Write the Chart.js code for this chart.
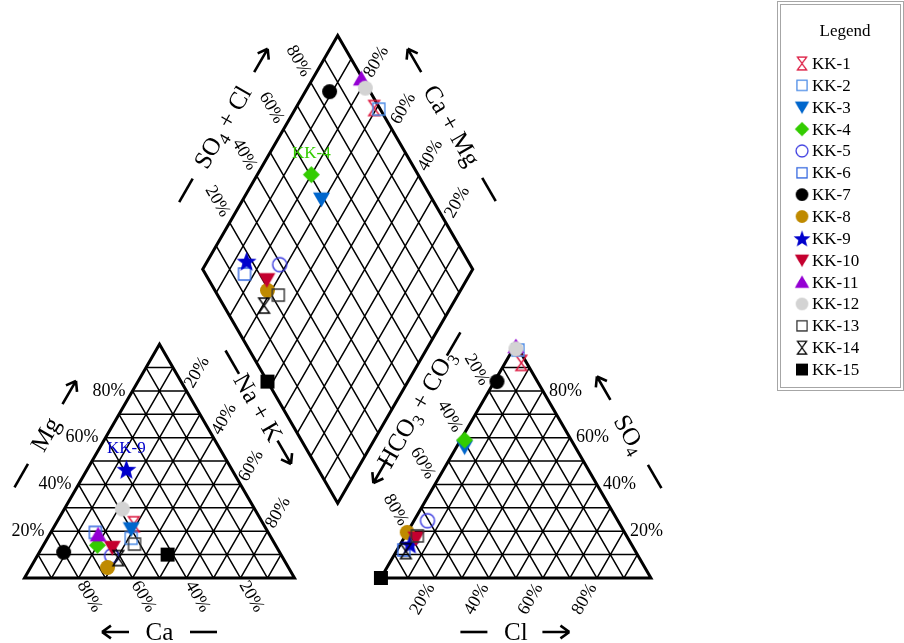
<!DOCTYPE html>
<html>
<head>
<meta charset="utf-8">
<style>
  html, body { margin: 0; padding: 0; background: #fff; }
  #wrap { width: 904px; height: 643px; }
</style>
<script src="https://cdn.jsdelivr.net/npm/chart.js@4.4.1/dist/chart.umd.min.js"></script>
</head>
<body>
<div id="wrap"><canvas id="piper" width="904" height="643"></canvas></div>
<script>
// sample names and ionic composition (% of meq)
var samples = ["KK-1", "KK-2", "KK-3", "KK-4", "KK-5", "KK-6", "KK-7", "KK-8",
               "KK-9", "KK-10", "KK-11", "KK-12", "KK-13", "KK-14", "KK-15"];
var ca   = [48, 52, 50, 66, 63, 64, 80, 67, 39, 61, 63.5, 49, 52, 61, 42];
var mg   = [23, 17, 21, 14, 9.5, 19.5, 11, 4.5, 46.5, 13, 18.5, 29.5, 14.5, 8.5, 10];
var naK  = [29, 31, 29, 20, 27.5, 16.5, 9, 28.5, 14.5, 26, 18, 21.5, 33.5, 30.5, 48];
var hco3 = [2, 0.5, 41, 39.5, 70.5, 85.5, 15, 80.5, 82, 78.5, 0.5, 1, 77.5, 85, 100];
var cl   = [6, 2, 3, 1.5, 5, 2.5, 1, 0, 3.5, 4.5, 0.5, 1, 4.5, 3.5, 0];
var so4  = [92, 97.5, 56, 59, 24.5, 12, 84, 19.5, 14.5, 17, 99, 98, 18, 11.5, 0];

var tickPct = [20, 40, 60, 80];
var gridPct = [10, 20, 30, 40, 50, 60, 70, 80, 90];

// marker look per sample
var markers = ["hourglass", "square", "triDown", "diamond", "circle", "square", "dot", "dot",
               "star", "triDown", "triUp", "dot", "square", "hourglass", "block"];
var colors = ["#dc143c", "#4a8ae6", "#0066cc", "#33cc00", "#3a3ae0", "#3568e0", "#000000", "#bf8a00",
              "#0000cc", "#c4002f", "#9400d3", "#d3d3d3", "#333333", "#000000", "#000000"];
var tagged = { "KK-4": 2, "KK-9": 0 };   // sample -> which point carries its name

var SERIF = "'Liberation Serif', 'Times New Roman', serif";
var H = Math.sqrt(3) / 2;
var GAP = 32;
var PX = 2.7;                  // pixels per percent
var XMIN = -24.5 / PX, XMAX = XMIN + 904 / PX;
var YMAX = 578 / PX, YMIN = YMAX - 643 / PX;

// ternary -> cartesian
function catXY(c, m, n) { return { x: n + m / 2, y: m * H }; }
function anXY(h, c, s) { return { x: 100 + GAP + c + s / 2, y: s * H }; }
var B = { x: 100 + GAP / 2, y: GAP * H };
function dmXY(camg, scl) { return { x: B.x + (scl - camg) / 2, y: B.y + (scl + camg) * H }; }

// grid lines, broken with nulls
var grid = [], frame = [];
function seg(arr, a, b) { arr.push(a, b, { x: null, y: null }); }
function triGrid(f) {
    gridPct.forEach(function (v) {
        seg(grid, f(v, 100 - v, 0), f(v, 0, 100 - v));
        seg(grid, f(100 - v, v, 0), f(0, v, 100 - v));
        seg(grid, f(100 - v, 0, v), f(0, 100 - v, v));
    });
}
triGrid(catXY);
triGrid(anXY);
gridPct.forEach(function (v) {
    seg(grid, dmXY(v, 0), dmXY(v, 100));
    seg(grid, dmXY(0, v), dmXY(100, v));
});
function closed(pts) { frame.push.apply(frame, pts.concat([pts[0], pts[1], { x: null, y: null }])); }
closed([catXY(100, 0, 0), catXY(0, 0, 100), catXY(0, 100, 0)]);
closed([anXY(100, 0, 0), anXY(0, 100, 0), anXY(0, 0, 100)]);
closed([dmXY(0, 0), dmXY(0, 100), dmXY(100, 100), dmXY(100, 0)]);

// marker images
function markerImage(shape, color) {
    var size = { hourglass: 15, square: 12, triDown: 17, diamond: 17, circle: 14, dot: 15,
                 star: 21, triUp: 17, block: 14 }[shape];
    var c = document.createElement("canvas");
    c.width = c.height = size + 4;
    var g = c.getContext("2d");
    g.translate(c.width / 2, c.height / 2);
    var r = size / 2, open = false;
    g.beginPath();
    if (shape === "hourglass") {
        g.moveTo(-r * 0.72, -r); g.lineTo(r * 0.72, -r); g.lineTo(-r * 0.72, r); g.lineTo(r * 0.72, r);
        g.closePath(); open = true;
    } else if (shape === "square" || shape === "block") {
        g.rect(-r, -r, size, size); open = shape === "square";
    } else if (shape === "triDown") {
        g.moveTo(-r, -r * 0.78); g.lineTo(r, -r * 0.78); g.lineTo(0, r * 0.95); g.closePath();
    } else if (shape === "triUp") {
        g.moveTo(-r, r * 0.78); g.lineTo(r, r * 0.78); g.lineTo(0, -r * 0.95); g.closePath();
    } else if (shape === "diamond") {
        g.moveTo(0, -r); g.lineTo(r, 0); g.lineTo(0, r); g.lineTo(-r, 0); g.closePath();
    } else if (shape === "circle" || shape === "dot") {
        g.arc(0, 0, r, 0, Math.PI * 2); open = shape === "circle";
    } else if (shape === "star") {
        for (var i = 0; i < 10; i++) {
            var rad = i % 2 ? r * 0.42 : r;
            var a = -Math.PI / 2 + i * Math.PI / 5;
            g.lineTo(Math.cos(a) * rad, Math.sin(a) * rad + 1);
        }
        g.closePath();
    }
    if (open) { g.strokeStyle = color; g.lineWidth = 1.4; g.stroke(); }
    else { g.fillStyle = color; g.fill(); }
    return c;
}

var datasets = [
    { label: "_grid", data: grid, showLine: true, borderColor: "#000", borderWidth: 1.5,
      pointRadius: 0, spanGaps: false, order: 1000 },
    { label: "_frame", data: frame, showLine: true, borderColor: "#000", borderWidth: 3,
      borderJoinStyle: "miter", pointRadius: 0, spanGaps: false, order: 999 }
];
samples.forEach(function (name, i) {
    datasets.push({
        label: name,
        data: [catXY(ca[i], mg[i], naK[i]), anXY(hco3[i], cl[i], so4[i]),
               dmXY(ca[i] + mg[i], so4[i] + cl[i])],
        pointStyle: markerImage(markers[i], colors[i]),
        pointRadius: 8,
        showLine: false,
        clip: false,
        order: 100 - i
    });
});

// helpers for the text and arrows
function textAt(ctx, str, p, deg, align, size, color) {
    ctx.save();
    ctx.translate(p.x, p.y);
    ctx.rotate(deg * Math.PI / 180);
    ctx.font = size + "px " + SERIF;
    ctx.textAlign = align;
    ctx.textBaseline = "middle";
    ctx.fillStyle = color || "#000";
    ctx.fillText(str, 0, 0);
    ctx.restore();
}
function richAt(ctx, parts, p, deg, size) {
    ctx.save();
    ctx.translate(p.x, p.y);
    ctx.rotate(deg * Math.PI / 180);
    ctx.fillStyle = "#000";
    ctx.textAlign = "left";
    ctx.textBaseline = "alphabetic";
    var w = 0;
    parts.forEach(function (pt) {
        ctx.font = (pt[1] ? size * 0.68 : size) + "px " + SERIF;
        w += ctx.measureText(pt[0]).width;
    });
    var cx = -w / 2, base = size * 0.33;
    parts.forEach(function (pt) {
        ctx.font = (pt[1] ? size * 0.68 : size) + "px " + SERIF;
        ctx.fillText(pt[0], cx, pt[1] ? base + size * 0.2 : base);
        cx += ctx.measureText(pt[0]).width;
    });
    ctx.restore();
}
function line(ctx, c, d, len) {
    ctx.moveTo(c.x - d.x * len / 2, c.y - d.y * len / 2);
    ctx.lineTo(c.x + d.x * len / 2, c.y + d.y * len / 2);
}
function arrow(ctx, c, d, len) {
    var tip = { x: c.x + d.x * len / 2, y: c.y + d.y * len / 2 };
    ctx.beginPath();
    line(ctx, c, d, len);
    [-1, 1].forEach(function (s) {
        var a = s * 0.62, cs = Math.cos(a), sn = Math.sin(a);
        ctx.moveTo(tip.x, tip.y);
        ctx.lineTo(tip.x - (d.x * cs - d.y * sn) * 11, tip.y - (d.x * sn + d.y * cs) * 11);
    });
    ctx.stroke();
}

var CA = catXY(100, 0, 0), NA = catXY(0, 0, 100), MG = catXY(0, 100, 0);
var HC = anXY(100, 0, 0), CL = anXY(0, 100, 0), SO = anXY(0, 0, 100);
var BOT = dmXY(0, 0), LEFT = dmXY(100, 0), TOP = dmXY(100, 100), RIGHT = dmXY(0, 100);

// axis titles: edge, offset of text / arrow / dash along the edge (px)
var titles = [
    { parts: [["Ca"]], from: CA, to: NA, mid: MG, t: 0, rot: 0, arrow: -44, dash: 44 },
    { parts: [["Mg"]], from: CA, to: MG, mid: NA, t: 0, rot: -60, arrow: 48, dash: -48 },
    { parts: [["Na + K"]], from: MG, to: NA, mid: CA, t: -31, rot: 60, arrow: 21, dash: -83 },
    { parts: [["Cl"]], from: HC, to: CL, mid: SO, t: 0, rot: 0, arrow: 40, dash: -42 },
    { parts: [["SO"], ["4", 1]], from: CL, to: SO, mid: HC, t: 0, rot: 60, arrow: 53, dash: -49 },
    { parts: [["HCO"], ["3", 1], [" + CO"], ["3", 1]], from: HC, to: SO, mid: CL, t: 29, rot: -60, arrow: -43, dash: 104 },
    { parts: [["SO"], ["4", 1], [" + Cl"]], from: LEFT, to: TOP, mid: RIGHT, t: -2, rot: -60, arrow: 75, dash: -75 },
    { parts: [["Ca + Mg"]], from: RIGHT, to: TOP, mid: LEFT, t: 0, rot: 60, arrow: 75, dash: -74 }
];

var decor = {
    id: "piperDecor",
    afterDatasetsDraw: function (chart) {
        var ctx = chart.ctx, sx = chart.scales.x, sy = chart.scales.y;
        function px(p) { return { x: sx.getPixelForValue(p.x), y: sy.getPixelForValue(p.y) }; }
        function off(p, d, k) { return { x: p.x + d.x * k, y: p.y + d.y * k }; }
        var r60 = Math.PI / 3;
        var dirDR = { x: Math.cos(r60), y: Math.sin(r60) }, dirUR = { x: Math.cos(r60), y: -Math.sin(r60) };
        var dirUL = { x: -dirDR.x, y: -dirDR.y }, dirDL = { x: -dirUR.x, y: -dirUR.y };

        // percent ticks
        tickPct.forEach(function (v) {
            var s = v + "%";
            textAt(ctx, s, off(px(catXY(100 - v, v, 0)), { x: -1, y: 0 }, 7), 0, "right", 18);
            textAt(ctx, s, off(px(catXY(v, 0, 100 - v)), dirDR, 5), 60, "left", 18);
            textAt(ctx, s, off(px(catXY(0, 100 - v, v)), dirUR, 5), -60, "left", 18);
            textAt(ctx, s, off(px(anXY(0, 100 - v, v)), { x: 1, y: 0 }, 6), 0, "left", 18);
            textAt(ctx, s, off(px(anXY(100 - v, v, 0)), dirDL, 8), -60, "right", 18);
            textAt(ctx, s, off(px(anXY(v, 0, 100 - v)), dirUL, 8), 60, "right", 18);
            textAt(ctx, s, off(px(dmXY(100, v)), dirUL, 8), 60, "right", 18);
            textAt(ctx, s, off(px(dmXY(v, 100)), dirUR, 7), -60, "left", 18);
        });

        // titles with arrow and dash
        ctx.save();
        ctx.strokeStyle = "#000";
        ctx.lineWidth = 2.6;
        titles.forEach(function (tt) {
            var a = px(tt.from), b = px(tt.to), o = px(tt.mid);
            var len = Math.hypot(b.x - a.x, b.y - a.y);
            var u = { x: (b.x - a.x) / len, y: (b.y - a.y) / len };
            var n = { x: -u.y, y: u.x };
            var m = { x: (a.x + b.x) / 2, y: (a.y + b.y) / 2 };
            if ((o.x - m.x) * n.x + (o.y - m.y) * n.y > 0) n = { x: -n.x, y: -n.y };
            var base = off(m, n, 54);
            richAt(ctx, tt.parts, off(base, u, tt.t), tt.rot, 25);
            var sgn = tt.arrow > 0 ? 1 : -1;
            arrow(ctx, off(base, u, tt.arrow), { x: u.x * sgn, y: u.y * sgn }, 27);
            ctx.beginPath();
            line(ctx, off(base, u, tt.dash), u, 27);
            ctx.stroke();
        });
        ctx.restore();

        // sample names next to their marks
        chart.data.datasets.forEach(function (ds, i) {
            if (!(ds.label in tagged)) return;
            var el = chart.getDatasetMeta(i).data[tagged[ds.label]];
            textAt(ctx, ds.label, { x: el.x, y: el.y - 21 }, 0, "center", 17, colors[samples.indexOf(ds.label)]);
        });
    },
    afterDraw: function (chart) {
        var ctx = chart.ctx;
        ctx.save();
        ctx.strokeStyle = "#a6a6a6";
        ctx.lineWidth = 1;
        ctx.strokeRect(777.5, 1.5, 126, 389);
        ctx.strokeRect(780.5, 4.5, 120, 383);
        textAt(ctx, "Legend", { x: 845, y: 32 }, 0, "center", 17);
        var row = 0;
        chart.data.datasets.forEach(function (ds) {
            if (ds.label.charAt(0) === "_") return;
            var y = 63.5 + row * 21.86;
            var img = ds.pointStyle, w = img.width * 0.85;
            ctx.drawImage(img, 802 - w / 2, y - w / 2, w, w);
            textAt(ctx, ds.label, { x: 812, y: y + 1 }, 0, "left", 17);
            row++;
        });
        ctx.restore();
    }
};

new Chart(document.getElementById("piper").getContext("2d"), {
    type: "scatter",
    data: { datasets: datasets },
    options: {
        responsive: false,
        animation: false,
        events: [],
        layout: { padding: 0, autoPadding: false },
        plugins: { legend: { display: false }, tooltip: { enabled: false } },
        scales: {
            x: { type: "linear", display: false, min: XMIN, max: XMAX },
            y: { type: "linear", display: false, min: YMIN, max: YMAX }
        }
    },
    plugins: [decor]
});
</script>
</body>
</html>
